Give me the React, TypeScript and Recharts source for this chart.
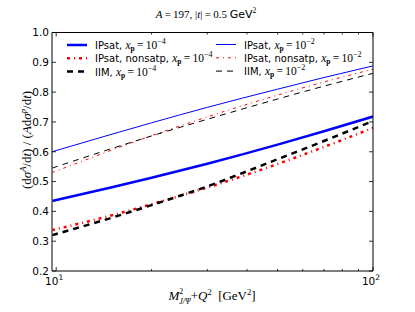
import React from "react";
import { LineChart, Line, XAxis, YAxis, Customized } from "recharts";

const X_VALUES = [9.7, 15, 20, 30, 50, 70, 100];
const IPSAT_4 = [0.435, 0.481, 0.513, 0.56, 0.624, 0.669, 0.718];
const NONSAT_4 = [0.337, 0.387, 0.424, 0.48, 0.559, 0.616, 0.68];
const IIM_4 = [0.32, 0.379, 0.421, 0.484, 0.575, 0.636, 0.703];
const IPSAT_2 = [0.6, 0.659, 0.697, 0.749, 0.81, 0.849, 0.888];
const NONSAT_2 = [0.53, 0.606, 0.654, 0.717, 0.79, 0.834, 0.877];
const IIM_2 = [0.545, 0.611, 0.653, 0.709, 0.777, 0.82, 0.863];

const X_TICKS = [10, 20, 30, 40, 50, 60, 70, 80, 90, 100];
const Y_TICKS = [0.2, 0.3, 0.4, 0.5, 0.6, 0.7, 0.8, 0.9, 1.0];
const Y_TICK_LABELS = ["0.2", "0.3", "0.4", "0.5", "0.6", "0.7", "0.8", "0.9", "1.0"];

const data = X_VALUES.map((x, i) => ({
  x,
  ipsat4: IPSAT_4[i],
  nonsat4: NONSAT_4[i],
  iim4: IIM_4[i],
  ipsat2: IPSAT_2[i],
  nonsat2: NONSAT_2[i],
  iim2: IIM_2[i],
}));

const SERIES = [
  { key: "ipsat4", name: "IPsat, ", exp: "−4", color: "#0000ff", width: 2.5, dash: undefined },
  { key: "nonsat4", name: "IPsat, nonsatp, ", exp: "−4", color: "#ff0000", width: 2.5, dash: "3 4 1 4" },
  { key: "iim4", name: "IIM, ", exp: "−4", color: "#000000", width: 2.5, dash: "6 5" },
  { key: "ipsat2", name: "IPsat, ", exp: "−2", color: "#0000ff", width: 1, dash: undefined },
  { key: "nonsat2", name: "IPsat, nonsatp, ", exp: "−2", color: "#ff0000", width: 1, dash: "3 4 1 4" },
  { key: "iim2", name: "IIM, ", exp: "−2", color: "#000000", width: 1, dash: "6 5" },
];

const W = 415;
const H = 312;
const PL = 52;
const PR = 373;
const PT = 32.5;
const PB = 271;
const SANS = "DejaVu Sans";
const SERIF = "Liberation Serif";

const BottomTick = (props: any) => {
  const { x, payload } = props;
  const v = payload.value;
  const major = v === 10 || v === 100;
  return (
    <g>
      <line x1={x} x2={x} y1={PB} y2={PB - (major ? 4 : 2)} stroke="#000" strokeWidth={0.8} />
      {major && (
        <text x={x - 2} y={PB + 14} textAnchor="middle" fontFamily={SANS} fontSize={10.5} fill="#000">
          10
          <tspan dy={-5} fontSize={7.5}>{v === 10 ? "1" : "2"}</tspan>
        </text>
      )}
    </g>
  );
};

const TopTick = (props: any) => {
  const { x, payload } = props;
  const v = payload.value;
  const major = v === 10 || v === 100;
  return <line x1={x} x2={x} y1={PT} y2={PT + (major ? 4 : 2)} stroke="#000" strokeWidth={0.8} />;
};

const LeftTick = (props: any) => {
  const { y, payload, index } = props;
  const label = Y_TICK_LABELS[index] ?? String(payload.value);
  return (
    <g>
      <line x1={PL} x2={PL + 4} y1={y} y2={y} stroke="#000" strokeWidth={0.8} />
      <text x={49} y={y + 3.8} textAnchor="end" fontFamily={SANS} fontSize={10.5} fill="#000">
        {label}
      </text>
    </g>
  );
};

const RightTick = (props: any) => {
  const { y } = props;
  return <line x1={PR} x2={PR - 4} y1={y} y2={y} stroke="#000" strokeWidth={0.8} />;
};

const LegendSample = ({ s, x, y }: any) => (
  <line x1={x} x2={x + 20} y1={y} y2={y} stroke={s.color} strokeWidth={s.width} strokeDasharray={s.dash} />
);

const Decor = () => {
  const cols = [
    { lx: 67, tx: 95, ys: [45, 58.3, 71.6] },
    { lx: 216, tx: 244, ys: [44.5, 57.8, 71.1] },
  ];
  return (
    <g>
      {/* Title */}
      <text x={206} y={18} textAnchor="middle" fontSize={11} fill="#000">
        <tspan fontFamily={SERIF} fontStyle="italic">A</tspan>
        <tspan fontFamily={SERIF}>{"\u2009=\u2009197,\u00a0"}</tspan>
        <tspan fontFamily={SERIF}>|</tspan>
        <tspan fontFamily={SERIF} fontStyle="italic">t</tspan>
        <tspan fontFamily={SERIF}>{"|\u2009=\u20090.5\u00a0"}</tspan>
        <tspan fontFamily={SANS}>GeV</tspan>
        <tspan fontFamily={SERIF} fontSize={7.5} dy={-5}>2</tspan>
      </text>
      {/* X label */}
      <text x={212} y={300} textAnchor="middle" fontFamily={SERIF} fontSize={13} fill="#000">
        <tspan fontStyle="italic">M</tspan>
        <tspan fontSize={8} dy={-6}>2</tspan>
        <tspan fontSize={8} fontStyle="italic" dx={-4} dy={10}>J/Ψ</tspan>
        <tspan dy={-4}>{"+"}</tspan>
        <tspan fontStyle="italic">Q</tspan>
        <tspan fontSize={8.5} dy={-5}>2</tspan>
        <tspan dy={5}>{"\u00a0\u00a0[GeV"}</tspan>
        <tspan fontSize={8.5} dy={-5}>2</tspan>
        <tspan dy={5}>]</tspan>
      </text>
      {/* Y label */}
      <text
        transform={`translate(31, 140) rotate(-90)`}
        textAnchor="middle"
        fontFamily={SERIF}
        fontSize={13}
        fill="#000"
      >
        <tspan>(d</tspan>
        <tspan fontStyle="italic">σ</tspan>
        <tspan fontSize={8.5} fontStyle="italic" dy={-5}>A</tspan>
        <tspan dy={5}>/d</tspan>
        <tspan fontStyle="italic">t</tspan>
        <tspan>{")\u00a0/\u00a0("}</tspan>
        <tspan fontStyle="italic">A</tspan>
        <tspan>d</tspan>
        <tspan fontStyle="italic">σ</tspan>
        <tspan fontSize={8.5} fontStyle="italic" dy={-5}>p</tspan>
        <tspan dy={5}>/d</tspan>
        <tspan fontStyle="italic">t</tspan>
        <tspan>)</tspan>
      </text>
      {/* Legend */}
      {SERIES.map((s, i) => {
        const col = cols[Math.floor(i / 3)];
        const y = col.ys[i % 3];
        return (
          <g key={s.key}>
            <LegendSample s={s} x={col.lx} y={y} />
            <text x={col.tx} y={y + 4} fontSize={10} fill="#000">
              <tspan fontFamily={SANS}>{s.name}</tspan>
              <tspan fontFamily={SERIF} fontStyle="italic" fontSize={11.5}>x</tspan>
              <tspan fontFamily={SERIF} fontWeight="bold" fontSize={7.5} dy={2}>p</tspan>
              <tspan fontFamily={SERIF} fontSize={11.5} dy={-2}>{"\u2009=\u200910"}</tspan>
              <tspan fontFamily={SERIF} fontSize={8} dy={-5}>{s.exp}</tspan>
            </text>
          </g>
        );
      })}
    </g>
  );
};

export default function App() {
  return (
    <div style={{ position: "absolute", left: 0, top: 0, width: W, height: H, background: "#fff" }}>
      <LineChart
        width={W}
        height={H}
        data={data}
        margin={{ top: PT - 1, right: W - PR - 1, bottom: H - PB - 20, left: 0 }}
      >
        <XAxis
          dataKey="x"
          type="number"
          scale="log"
          domain={[9.7, 100]}
          allowDataOverflow
          ticks={X_TICKS}
          interval={0}
          height={20}
          tickLine={false}
          tick={<BottomTick />}
          axisLine={{ stroke: "#000", strokeWidth: 1 }}
        />
        <XAxis
          xAxisId="top"
          orientation="top"
          dataKey="x"
          type="number"
          scale="log"
          domain={[9.7, 100]}
          allowDataOverflow
          ticks={X_TICKS}
          interval={0}
          height={1}
          tickLine={false}
          tick={<TopTick />}
          axisLine={{ stroke: "#000", strokeWidth: 1 }}
        />
        <YAxis
          type="number"
          domain={[0.2, 1.0]}
          ticks={Y_TICKS}
          interval={0}
          width={PL}
          allowDataOverflow
          tickLine={false}
          tick={<LeftTick />}
          axisLine={{ stroke: "#555", strokeWidth: 1.5 }}
        />
        <YAxis
          yAxisId="right"
          orientation="right"
          type="number"
          domain={[0.2, 1.0]}
          ticks={Y_TICKS}
          interval={0}
          width={1}
          allowDataOverflow
          tickLine={false}
          tick={<RightTick />}
          axisLine={{ stroke: "#000", strokeWidth: 1 }}
        />
        {SERIES.map((s) => (
          <Line
            key={s.key}
            dataKey={s.key}
            type="monotone"
            stroke={s.color}
            strokeWidth={s.width}
            strokeDasharray={s.dash}
            dot={false}
            activeDot={false}
            isAnimationActive={false}
          />
        ))}
        <Customized component={Decor} />
      </LineChart>
    </div>
  );
}
